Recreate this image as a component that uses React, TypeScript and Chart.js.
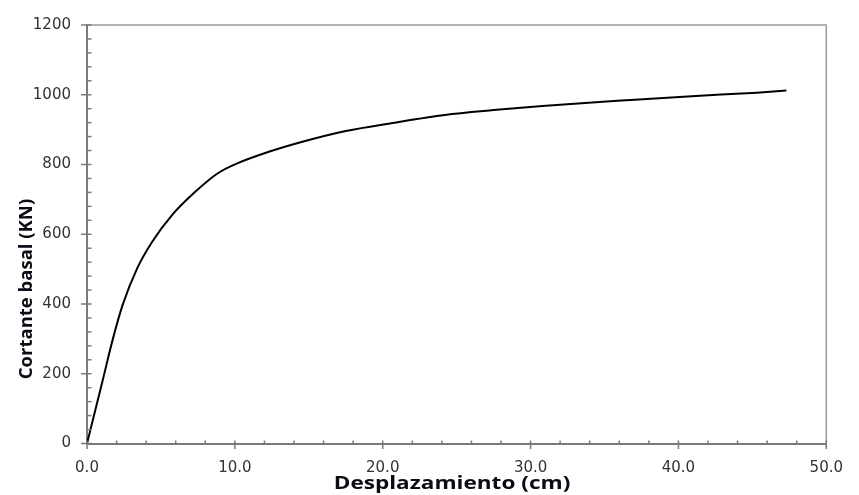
import React, { useEffect, useRef } from "react";
import { Chart, registerables } from "chart.js";

Chart.register(...registerables);

const displacementCm = [0, 0.5, 1.1, 1.75, 2.4, 3.4, 4.4, 5.75, 7.3, 8.85, 10.2, 12.4, 14.2, 17.5, 20.8, 24.2, 27.5, 30.8, 36.4, 40.9, 45.3, 47.3];
const baseShearKN = [0, 85, 188, 300, 396, 503, 578, 655, 721, 775, 804, 838, 861, 896, 920, 942, 956, 968, 984, 996, 1006, 1012];

const xMajorTicks = [0, 10, 20, 30, 40, 50];
const xMinorStep = 2;
const yMajorTicks = [0, 200, 400, 600, 800, 1000, 1200];
const yMinorStep = 40;

const xTitle = "Desplazamiento (cm)";
const yTitle = "Cortante basal (KN)";

const AXIS_GRAY = "#7a7a7a";

const decorPlugin = {
  id: "decor",
  afterDraw(chart: any) {
    const { ctx, chartArea, scales } = chart;
    const xs = scales.x;
    const ys = scales.y;
    ctx.save();
    ctx.strokeStyle = "#9a9a9a";
    ctx.lineWidth = 1.5;
    ctx.beginPath();
    ctx.moveTo(chartArea.left, chartArea.top);
    ctx.lineTo(chartArea.right, chartArea.top);
    ctx.lineTo(chartArea.right, chartArea.bottom);
    ctx.stroke();

    ctx.strokeStyle = AXIS_GRAY;
    ctx.lineWidth = 1.5;
    for (let v = 0; v <= 1200; v += yMinorStep) {
      const py = ys.getPixelForValue(v);
      const major = yMajorTicks.includes(v);
      ctx.beginPath();
      ctx.moveTo(chartArea.left - (major ? 6 : 0), py);
      ctx.lineTo(chartArea.left + 4.5, py);
      ctx.stroke();
    }
    for (let v = 0; v <= 50; v += xMinorStep) {
      const px = xs.getPixelForValue(v);
      const major = xMajorTicks.includes(v);
      ctx.beginPath();
      ctx.moveTo(px, chartArea.bottom - 3);
      ctx.lineTo(px, chartArea.bottom + (major ? 5.5 : 0));
      ctx.stroke();
    }

    ctx.fillStyle = "#0b0b14";
    ctx.font = "bold 18.5px 'Open Sans'";
    ctx.textAlign = "center";
    ctx.textBaseline = "alphabetic";
    ctx.save();
    ctx.translate(452, 489);
    ctx.scale(1.22, 1);
    ctx.fillText(xTitle, 0, 0);
    ctx.restore();

    ctx.save();
    ctx.translate(32, 289);
    ctx.rotate(-Math.PI / 2);
    ctx.fillText(yTitle, 0, 0);
    ctx.restore();
    ctx.restore();
  },
};

export default function App() {
  const canvasRef = useRef<HTMLCanvasElement | null>(null);

  useEffect(() => {
    if (!canvasRef.current) return;
    const chart = new Chart(canvasRef.current, {
      type: "line",
      data: {
        datasets: [
          {
            data: displacementCm.map((x, i) => ({ x, y: baseShearKN[i] })),
            borderColor: "#000000",
            borderWidth: 2,
            pointRadius: 0,
            fill: false,
            cubicInterpolationMode: "monotone",
          },
        ],
      },
      options: {
        responsive: false,
        animation: false,
        layout: { padding: { left: 0, top: 22, right: 21, bottom: 0 } },
        plugins: {
          legend: { display: false },
          tooltip: { enabled: false },
        },
        scales: {
          x: {
            type: "linear",
            min: 0,
            max: 50,
            grid: { display: false, drawTicks: false },
            border: { display: true, color: AXIS_GRAY, width: 2 },
            ticks: {
              stepSize: 10,
              padding: 16,
              color: "#333333",
              font: { family: "'DejaVu Sans'", size: 15 },
              callback: (v: any) => Number(v).toFixed(1),
              maxRotation: 0,
            },
            afterFit: (s: any) => {
              s.height = 51.5;
            },
          },
          y: {
            type: "linear",
            min: 0,
            max: 1200,
            grid: { display: false, drawTicks: false },
            border: { display: true, color: AXIS_GRAY, width: 2 },
            ticks: {
              stepSize: 200,
              padding: 16,
              color: "#333333",
              font: { family: "'DejaVu Sans'", size: 15 },
              callback: (v: any) => String(v),
            },
            afterFit: (s: any) => {
              s.width = 87;
            },
          },
        },
      },
      plugins: [decorPlugin],
    });
    return () => chart.destroy();
  }, []);

  return (
    <div style={{ position: "fixed", left: 0, top: 0, width: 859, height: 495, background: "#fff" }}>
      <canvas ref={canvasRef} width={859} height={495} />
    </div>
  );
}
